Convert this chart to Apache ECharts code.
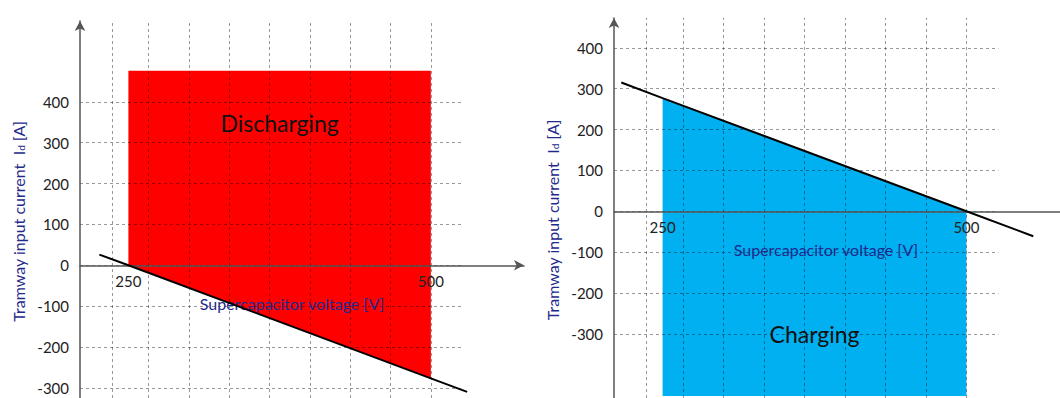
<!DOCTYPE html>
<html>
<head>
<meta charset="utf-8">
<script src="https://cdn.jsdelivr.net/npm/echarts@6/dist/echarts.min.js"></script>
<style>
  html, body { margin: 0; padding: 0; background: #fff; }
  #chart { width: 1060px; height: 398px; }
</style>
</head>
<body>
<div id="chart"></div>
<script>
// Supercapacitor converter operating regions: discharging (left) and charging (right)

// axis ticks and grid positions
const voltageTicks = [250, 500];
const currentTicks = [-300, -200, -100, 0, 100, 200, 300, 400];
const gridVoltages = [236.5, 266.7, 300, 333.3, 366.7, 400, 433.3, 466.7, 500];
const gridCurrents = [-300, -200, -100, 0, 100, 200, 300, 400];
const gridVoltageEnd = 526.4;

// visible axis extents
const voltageRange = [210, 577];
const currentRangeLeft = [-325, 598];
const currentRangeRight = [-457, 473];

// discharging region and its current limit
const dischargeAreaV = [250, 500, 500, 250];
const dischargeAreaI = [476, 476, -277, 0];
const dischargeLimitV = [226, 250, 500, 530];
const dischargeLimitI = [26, 0, -277, -310];

// charging region and its current limit
const chargeAreaV = [250, 500, 500, 250];
const chargeAreaI = [277, 0, -452, -452];
const chargeLimitV = [216, 250, 500, 555];
const chargeLimitI = [315, 277, 0, -61];

const FONT = 'Lato, "Open Sans", sans-serif';
const TITLE_BLUE = '#1f2a8c';
const AXIS_GREY = '#555';

const GRIDS = [
  { left: 80, top: 21, width: 444, height: 377 },
  { left: 614, top: 18, width: 446, height: 380 }
];

function zip(a, b) { return a.map((v, k) => [v, b[k]]); }

function regionSeries(idx, vs, is, color, text, textAt) {
  const pts = zip(vs, is);
  return {
    type: 'custom', xAxisIndex: idx, yAxisIndex: idx, z: 1, silent: true,
    data: pts,
    renderItem: (params, api) => {
      if (params.dataIndex !== 0) return null;
      const poly = pts.map(p => api.coord(p));
      const c = api.coord(textAt);
      return {
        type: 'group',
        children: [
          { type: 'polygon', shape: { points: poly }, style: { fill: color } },
          { type: 'text', x: c[0], y: c[1],
            style: { text: text, fill: '#111', fontSize: 23, fontFamily: FONT,
                     align: 'center', verticalAlign: 'middle' } }
        ]
      };
    }
  };
}

function gridSeries(idx) {
  const vertical = gridVoltages.map(v => ({ xAxis: v }));
  const horizontal = gridCurrents.map(c => [
    { coord: [voltageRange[0], c] },
    { coord: [gridVoltageEnd, c] }
  ]);
  return {
    type: 'line', xAxisIndex: idx, yAxisIndex: idx, z: 2, silent: true, data: [],
    markLine: {
      silent: true, symbol: 'none', label: { show: false }, animation: false,
      lineStyle: { type: [3, 3], color: 'rgba(0,0,0,0.4)', width: 1 },
      emphasis: { disabled: true },
      data: vertical.concat(horizontal)
    }
  };
}

function limitSeries(idx, vs, is) {
  return {
    type: 'line', xAxisIndex: idx, yAxisIndex: idx, z: 12, silent: true, clip: false,
    data: zip(vs, is), symbol: 'none',
    lineStyle: { color: '#000', width: 2 }
  };
}

// the voltage axis sits on the zero-current line of its panel
function xAxis(idx, currentRange, arrow, namePad) {
  const zeroOffset = (0 - currentRange[0]) / (currentRange[1] - currentRange[0]) * GRIDS[idx].height;
  return {
    type: 'value', gridIndex: idx, min: voltageRange[0], max: voltageRange[1], z: 10,
    position: 'bottom', offset: -zeroOffset,
    axisLine: { show: true, onZero: false, symbol: arrow ? ['none', 'arrow'] : 'none',
                symbolSize: [8, 10], lineStyle: { color: AXIS_GREY, width: 1.5 } },
    axisTick: { show: false },
    splitLine: { show: false },
    axisLabel: { customValues: voltageTicks, color: '#222', fontSize: 15, fontFamily: FONT, margin: 8 },
    name: 'Supercapacitor voltage [V]', nameLocation: 'middle', nameGap: 30,
    nameTextStyle: { color: TITLE_BLUE, fontSize: 16, fontFamily: FONT, padding: namePad }
  };
}

function yAxis(idx, range) {
  return {
    type: 'value', gridIndex: idx, min: range[0], max: range[1], z: 10,
    axisLine: { show: true, onZero: false, symbol: ['none', 'arrow'], symbolSize: [8, 10],
                lineStyle: { color: AXIS_GREY, width: 1.5 } },
    axisTick: { show: false },
    splitLine: { show: false },
    axisLabel: { customValues: currentTicks, color: '#222', fontSize: 15, fontFamily: FONT, margin: 11 },
    name: 'Tramway input current  {b|I}{sub|d} {b|[A]}', nameLocation: 'middle', nameRotate: 90, nameGap: 54,
    nameTextStyle: {
      color: TITLE_BLUE, fontSize: 16, fontFamily: FONT, padding: [0, 24, 0, 0],
      rich: {
        b: { color: TITLE_BLUE, fontSize: 16, fontFamily: FONT },
        sub: { color: TITLE_BLUE, fontSize: 10, fontFamily: FONT, verticalAlign: 'bottom', padding: [6, 0, 0, 0] }
      }
    }
  };
}

const chart = echarts.init(document.getElementById('chart'), null, { renderer: 'svg' });
chart.setOption({
  animation: false,
  backgroundColor: '#fff',
  grid: GRIDS.map(g => Object.assign({ outerBoundsMode: 'none', containLabel: false }, g)),
  xAxis: [
    xAxis(0, currentRangeLeft, true, [0, 20, 0, 0]),
    xAxis(1, currentRangeRight, false, [0, 22, 0, 0])
  ],
  yAxis: [yAxis(0, currentRangeLeft), yAxis(1, currentRangeRight)],
  series: [
    regionSeries(0, dischargeAreaV, dischargeAreaI, '#ff0000', 'Discharging', [375, 348]),
    gridSeries(0),
    limitSeries(0, dischargeLimitV, dischargeLimitI),
    regionSeries(1, chargeAreaV, chargeAreaI, '#00b0f0', 'Charging', [375, -300]),
    gridSeries(1),
    limitSeries(1, chargeLimitV, chargeLimitI)
  ]
});
</script>
</body>
</html>
